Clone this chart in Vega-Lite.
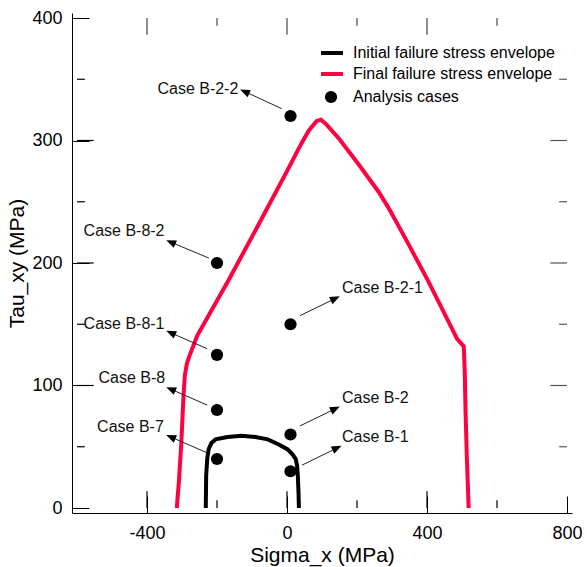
{
  "$schema": "https://vega.github.io/schema/vega-lite/v6.json",
  "width": 500,
  "height": 500,
  "autosize": {"type": "none"},
  "padding": {"left": 72, "top": 13, "right": 15, "bottom": 54},
  "config": {
    "view": {"stroke": null, "fill": null},
    "font": "Liberation Sans",
    "axis": {"grid": false, "zindex": 1, "labelFont": "Liberation Sans", "titleFont": "Liberation Sans", "labelColor": "black", "titleColor": "black", "labelFontSize": 18, "titleFontSize": 21, "titleFontWeight": "normal", "labelFlush": false, "labelOverlap": false, "labelExpr": "'' + datum.value"},
    "legend": {"labelFont": "Liberation Sans", "labelFontSize": 16, "labelColor": "black", "padding": 0, "labelLimit": 0}
  },
  "datasets": {
    "env": [
      {"envelope": "Final failure stress envelope", "ord": 1, "sigma_x": -315, "tau_xy": 0},
      {"envelope": "Final failure stress envelope", "ord": 2, "sigma_x": -309, "tau_xy": 21},
      {"envelope": "Final failure stress envelope", "ord": 3, "sigma_x": -302, "tau_xy": 53},
      {"envelope": "Final failure stress envelope", "ord": 4, "sigma_x": -296, "tau_xy": 90},
      {"envelope": "Final failure stress envelope", "ord": 5, "sigma_x": -292, "tau_xy": 108},
      {"envelope": "Final failure stress envelope", "ord": 6, "sigma_x": -286, "tau_xy": 118},
      {"envelope": "Final failure stress envelope", "ord": 7, "sigma_x": -279, "tau_xy": 124},
      {"envelope": "Final failure stress envelope", "ord": 8, "sigma_x": -256, "tau_xy": 141},
      {"envelope": "Final failure stress envelope", "ord": 9, "sigma_x": -167, "tau_xy": 186},
      {"envelope": "Final failure stress envelope", "ord": 10, "sigma_x": -80, "tau_xy": 232},
      {"envelope": "Final failure stress envelope", "ord": 11, "sigma_x": 0, "tau_xy": 275},
      {"envelope": "Final failure stress envelope", "ord": 12, "sigma_x": 40, "tau_xy": 297},
      {"envelope": "Final failure stress envelope", "ord": 13, "sigma_x": 62, "tau_xy": 308},
      {"envelope": "Final failure stress envelope", "ord": 14, "sigma_x": 85, "tau_xy": 316},
      {"envelope": "Final failure stress envelope", "ord": 15, "sigma_x": 97, "tau_xy": 317},
      {"envelope": "Final failure stress envelope", "ord": 16, "sigma_x": 113, "tau_xy": 313},
      {"envelope": "Final failure stress envelope", "ord": 17, "sigma_x": 150, "tau_xy": 301},
      {"envelope": "Final failure stress envelope", "ord": 18, "sigma_x": 206, "tau_xy": 280},
      {"envelope": "Final failure stress envelope", "ord": 19, "sigma_x": 262, "tau_xy": 258},
      {"envelope": "Final failure stress envelope", "ord": 20, "sigma_x": 290, "tau_xy": 245},
      {"envelope": "Final failure stress envelope", "ord": 21, "sigma_x": 346, "tau_xy": 216},
      {"envelope": "Final failure stress envelope", "ord": 22, "sigma_x": 402, "tau_xy": 186},
      {"envelope": "Final failure stress envelope", "ord": 23, "sigma_x": 460, "tau_xy": 153},
      {"envelope": "Final failure stress envelope", "ord": 24, "sigma_x": 486, "tau_xy": 138},
      {"envelope": "Final failure stress envelope", "ord": 25, "sigma_x": 505, "tau_xy": 132},
      {"envelope": "Final failure stress envelope", "ord": 26, "sigma_x": 508, "tau_xy": 110},
      {"envelope": "Final failure stress envelope", "ord": 27, "sigma_x": 510, "tau_xy": 80},
      {"envelope": "Final failure stress envelope", "ord": 28, "sigma_x": 514, "tau_xy": 40},
      {"envelope": "Final failure stress envelope", "ord": 29, "sigma_x": 519, "tau_xy": 0},
      {"envelope": "Initial failure stress envelope", "ord": 1, "sigma_x": -232, "tau_xy": 0},
      {"envelope": "Initial failure stress envelope", "ord": 2, "sigma_x": -231, "tau_xy": 26},
      {"envelope": "Initial failure stress envelope", "ord": 3, "sigma_x": -228, "tau_xy": 40},
      {"envelope": "Initial failure stress envelope", "ord": 4, "sigma_x": -224, "tau_xy": 48},
      {"envelope": "Initial failure stress envelope", "ord": 5, "sigma_x": -216, "tau_xy": 53},
      {"envelope": "Initial failure stress envelope", "ord": 6, "sigma_x": -204, "tau_xy": 56},
      {"envelope": "Initial failure stress envelope", "ord": 7, "sigma_x": -170, "tau_xy": 58},
      {"envelope": "Initial failure stress envelope", "ord": 8, "sigma_x": -130, "tau_xy": 59},
      {"envelope": "Initial failure stress envelope", "ord": 9, "sigma_x": -90, "tau_xy": 58},
      {"envelope": "Initial failure stress envelope", "ord": 10, "sigma_x": -55, "tau_xy": 56},
      {"envelope": "Initial failure stress envelope", "ord": 11, "sigma_x": -25, "tau_xy": 52},
      {"envelope": "Initial failure stress envelope", "ord": 12, "sigma_x": 1, "tau_xy": 48},
      {"envelope": "Initial failure stress envelope", "ord": 13, "sigma_x": 15, "tau_xy": 44},
      {"envelope": "Initial failure stress envelope", "ord": 14, "sigma_x": 25, "tau_xy": 40},
      {"envelope": "Initial failure stress envelope", "ord": 15, "sigma_x": 29, "tau_xy": 34},
      {"envelope": "Initial failure stress envelope", "ord": 16, "sigma_x": 31, "tau_xy": 26},
      {"envelope": "Initial failure stress envelope", "ord": 17, "sigma_x": 33, "tau_xy": 12},
      {"envelope": "Initial failure stress envelope", "ord": 18, "sigma_x": 34, "tau_xy": 0}
    ],
    "cases": [
      {"case": "Case B-2-2", "sigma_x": 10, "tau_xy": 320, "tail_x": -15, "tail_y": 326, "head_x": -121, "head_y": 340, "label_x": -139, "label_y": 342, "side": "left"},
      {"case": "Case B-8-2", "sigma_x": -200, "tau_xy": 200, "tail_x": -223, "tail_y": 204, "head_x": -332, "head_y": 217, "label_x": -350, "label_y": 226, "side": "left"},
      {"case": "Case B-8-1", "sigma_x": -200, "tau_xy": 125, "tail_x": -228, "tail_y": 130, "head_x": -332, "head_y": 143, "label_x": -350, "label_y": 150, "side": "left"},
      {"case": "Case B-8", "sigma_x": -200, "tau_xy": 80, "tail_x": -228, "tail_y": 84, "head_x": -332, "head_y": 97, "label_x": -348, "label_y": 106, "side": "left"},
      {"case": "Case B-7", "sigma_x": -200, "tau_xy": 40, "tail_x": -228, "tail_y": 45, "head_x": -332, "head_y": 58, "label_x": -352, "label_y": 66, "side": "left"},
      {"case": "Case B-2-1", "sigma_x": 10, "tau_xy": 150, "tail_x": 37, "tail_y": 157, "head_x": 138, "head_y": 171, "label_x": 157, "label_y": 180, "side": "right"},
      {"case": "Case B-2", "sigma_x": 10, "tau_xy": 60, "tail_x": 37, "tail_y": 67, "head_x": 138, "head_y": 81, "label_x": 157, "label_y": 90, "side": "right"},
      {"case": "Case B-1", "sigma_x": 10, "tau_xy": 30, "tail_x": 43, "tail_y": 35, "head_x": 143, "head_y": 49, "label_x": 157, "label_y": 58, "side": "right"}
    ]
  },
  "layer": [
    {
      "data": {"name": "env"},
      "mark": {"type": "line", "strokeWidth": 4, "clip": true},
      "encoding": {
        "x": {"field": "sigma_x", "type": "quantitative", "scale": {"domain": [-600, 800], "nice": false, "zero": false},
          "axis": {"orient": "bottom", "values": [-400, 0, 400, 800], "tickSize": -17, "tickColor": "black", "domainColor": "black", "labelPadding": 28, "title": "Sigma_x (MPa)", "titlePadding": 2}},
        "y": {"field": "tau_xy", "type": "quantitative", "scale": {"domain": [0, 400], "nice": false, "zero": false},
          "axis": {"orient": "left", "values": [0, 100, 200, 300, 400], "tickSize": -17, "tickColor": "black", "domainColor": "black", "labelPadding": 27, "title": "Tau_xy (MPa)", "titlePadding": 4}},
        "color": {"field": "envelope", "type": "nominal",
          "scale": {"domain": ["Initial failure stress envelope", "Final failure stress envelope"], "range": ["black", "#ff0040"]},
          "legend": {"orient": "none", "legendX": 247, "legendY": 27, "title": null, "symbolType": "stroke", "symbolStrokeWidth": 4, "symbolSize": 480, "labelOffset": 8, "rowPadding": 0}},
        "order": {"field": "ord", "type": "quantitative"}
      }
    },
    {
      "data": {"name": "cases"},
      "mark": {"type": "point", "filled": true, "color": "black", "size": 150, "opacity": 1},
      "encoding": {
        "x": {"field": "sigma_x", "type": "quantitative"},
        "y": {"field": "tau_xy", "type": "quantitative"},
        "shape": {"datum": "Analysis cases", "scale": {"range": ["circle"]},
          "legend": {"orient": "none", "legendX": 251, "legendY": 76, "title": null, "symbolSize": 150, "symbolFillColor": "black", "symbolStrokeColor": "black", "symbolStrokeWidth": 0, "labelOffset": 14}}
      }
    },
    {
      "data": {"name": "cases"},
      "mark": {"type": "rule", "strokeWidth": 1, "color": "#222"},
      "encoding": {
        "x": {"field": "tail_x", "type": "quantitative"},
        "x2": {"field": "head_x"},
        "y": {"field": "tail_y", "type": "quantitative"},
        "y2": {"field": "head_y"}
      }
    },
    {
      "data": {"name": "cases"},
      "mark": {"type": "point", "shape": "M0,-1L0.8,1L-0.8,1Z", "filled": true, "color": "black", "size": 100, "opacity": 1},
      "encoding": {
        "x": {"field": "head_x", "type": "quantitative"},
        "y": {"field": "head_y", "type": "quantitative"},
        "angle": {"field": "side", "type": "nominal", "scale": {"domain": ["left", "right"], "range": [294, 64]}, "legend": null}
      }
    },
    {
      "data": {"name": "cases"},
      "transform": [{"filter": "datum.side === 'left'"}],
      "mark": {"type": "text", "align": "right", "baseline": "middle", "fontSize": 16, "font": "Liberation Sans", "color": "#111"},
      "encoding": {
        "x": {"field": "label_x", "type": "quantitative"},
        "y": {"field": "label_y", "type": "quantitative"},
        "text": {"field": "case"}
      }
    },
    {
      "data": {"name": "cases"},
      "transform": [{"filter": "datum.side === 'right'"}],
      "mark": {"type": "text", "align": "left", "baseline": "middle", "fontSize": 16, "font": "Liberation Sans", "color": "#111"},
      "encoding": {
        "x": {"field": "label_x", "type": "quantitative"},
        "y": {"field": "label_y", "type": "quantitative"},
        "text": {"field": "case"}
      }
    },
    {
      "mark": {"type": "rule", "strokeWidth": 1, "color": "black"},
      "encoding": {"x": {"datum": 0, "type": "quantitative"}}
    },
    {
      "mark": {"type": "rule", "strokeWidth": 1, "color": "black"},
      "encoding": {"x": {"datum": -600, "type": "quantitative"}}
    },
    {
      "mark": {"type": "rule", "strokeWidth": 1, "color": "#888"},
      "encoding": {"x": {"datum": 800, "type": "quantitative"}}
    },
    {
      "mark": {"type": "rule", "strokeWidth": 1, "color": "#444"},
      "encoding": {"y": {"datum": 400, "type": "quantitative"}}
    },
    {
      "mark": {"type": "rule", "strokeWidth": 1, "color": "black"},
      "encoding": {"y": {"datum": 0, "type": "quantitative"}}
    },
    {
      "data": {"values": [{"tick_x": -400, "y_from": 0, "y_to": 13.6}, {"tick_x": 0, "y_from": 0, "y_to": 13.6}, {"tick_x": 400, "y_from": 0, "y_to": 13.6}, {"tick_x": -200, "y_from": 0, "y_to": 6.4}, {"tick_x": 200, "y_from": 0, "y_to": 6.4}, {"tick_x": 600, "y_from": 0, "y_to": 6.4}]},
      "mark": {"type": "bar", "color": "black", "width": 1.2, "opacity": 1},
      "encoding": {"x": {"field": "tick_x", "type": "quantitative"}, "y": {"field": "y_from", "type": "quantitative"}, "y2": {"field": "y_to"}}
    },
    {
      "data": {"values": [{"tick_x": -400, "y_from": 400, "y_to": 386.4}, {"tick_x": 0, "y_from": 400, "y_to": 386.4}, {"tick_x": 400, "y_from": 400, "y_to": 386.4}, {"tick_x": -200, "y_from": 400, "y_to": 393.6}, {"tick_x": 200, "y_from": 400, "y_to": 393.6}, {"tick_x": 600, "y_from": 400, "y_to": 393.6}]},
      "mark": {"type": "bar", "color": "#444", "width": 1.2, "opacity": 1},
      "encoding": {"x": {"field": "tick_x", "type": "quantitative"}, "y": {"field": "y_from", "type": "quantitative"}, "y2": {"field": "y_to"}}
    },
    {
      "data": {"values": [{"tick_y": 100, "x_from": -600, "x_to": -552.4}, {"tick_y": 200, "x_from": -600, "x_to": -552.4}, {"tick_y": 300, "x_from": -600, "x_to": -552.4}, {"tick_y": 50, "x_from": -600, "x_to": -577.6}, {"tick_y": 150, "x_from": -600, "x_to": -577.6}, {"tick_y": 250, "x_from": -600, "x_to": -577.6}, {"tick_y": 350, "x_from": -600, "x_to": -577.6}]},
      "mark": {"type": "bar", "color": "black", "height": 1.2, "orient": "horizontal", "opacity": 1},
      "encoding": {"y": {"field": "tick_y", "type": "quantitative"}, "x": {"field": "x_from", "type": "quantitative"}, "x2": {"field": "x_to"}}
    },
    {
      "data": {"values": [{"tick_y": 100, "x_from": 800, "x_to": 752.4}, {"tick_y": 200, "x_from": 800, "x_to": 752.4}, {"tick_y": 300, "x_from": 800, "x_to": 752.4}, {"tick_y": 50, "x_from": 800, "x_to": 777.6}, {"tick_y": 150, "x_from": 800, "x_to": 777.6}, {"tick_y": 250, "x_from": 800, "x_to": 777.6}, {"tick_y": 350, "x_from": 800, "x_to": 777.6}]},
      "mark": {"type": "bar", "color": "#555", "height": 1.2, "orient": "horizontal", "opacity": 1},
      "encoding": {"y": {"field": "tick_y", "type": "quantitative"}, "x": {"field": "x_from", "type": "quantitative"}, "x2": {"field": "x_to"}}
    }
  ]
}
